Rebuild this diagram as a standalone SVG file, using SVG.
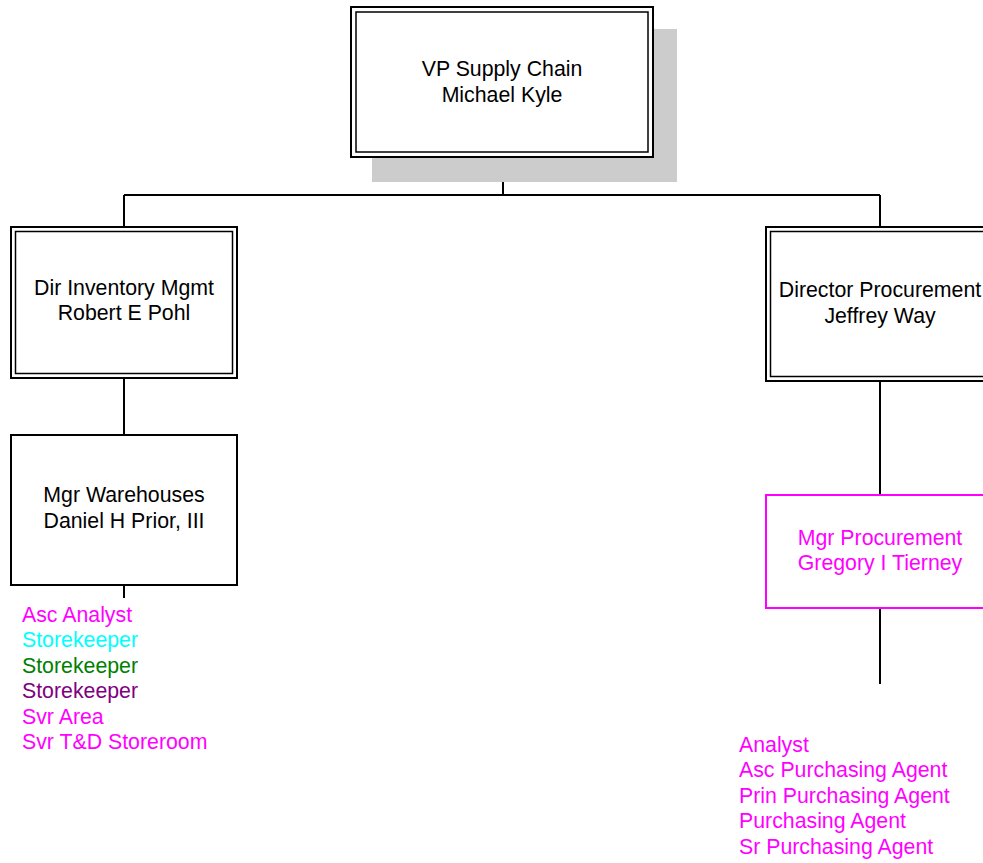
<svg xmlns="http://www.w3.org/2000/svg" width="983" height="863" viewBox="0 0 983 863">
<style>
text{font-family:"Liberation Sans",Arial,sans-serif;font-size:21.3px;}
.c{text-anchor:middle;fill:#000;}
.box{fill:#fff;stroke:#000;stroke-width:2;}
.inner{fill:none;stroke:#000;stroke-width:1.5;}
.ln{stroke:#000;stroke-width:2;fill:none;}
.m{fill:#FF00FF;}
</style>
<rect width="983" height="863" fill="#fff"/>
<g id="connectors">
<path class="ln" d="M503,157 V195 M124,195 H880 M124,195 V227 M880,195 V227 M124,378 V435 M124,585 V598 M880,381 V495 M880,608 V684"/>
</g>
<g id="vp">
<rect x="372" y="29" width="305" height="153" fill="#cccccc"/>
<rect class="box" x="351" y="7" width="302" height="150"/>
<rect class="inner" x="356" y="12" width="292" height="140"/>
<text class="c" x="502" y="76">VP Supply Chain</text>
<text class="c" x="502" y="102">Michael Kyle</text>
</g>
<g id="dir-inventory">
<rect class="box" x="11" y="227" width="226" height="151"/>
<rect class="inner" x="15.5" y="231.5" width="217" height="142"/>
<text class="c" x="124" y="295">Dir Inventory Mgmt</text>
<text class="c" x="124" y="320">Robert E Pohl</text>
</g>
<g id="dir-procurement">
<rect class="box" x="766" y="227" width="228" height="154"/>
<rect class="inner" x="770.5" y="231.5" width="219" height="145"/>
<text class="c" x="880" y="297">Director Procurement</text>
<text class="c" x="880" y="323">Jeffrey Way</text>
</g>
<g id="mgr-warehouses">
<rect class="box" x="11" y="435" width="226" height="150"/>
<text class="c" x="124" y="502">Mgr Warehouses</text>
<text class="c" x="124" y="528">Daniel H Prior, III</text>
</g>
<g id="mgr-warehouses-list">
<text x="22" y="622" class="m">Asc Analyst</text>
<text x="22" y="647" fill="#00FFFF">Storekeeper</text>
<text x="22" y="673" fill="#008000">Storekeeper</text>
<text x="22" y="698" fill="#800080">Storekeeper</text>
<text x="22" y="724" class="m">Svr Area</text>
<text x="22" y="749" class="m">Svr T&amp;D Storeroom</text>
</g>
<g id="mgr-procurement">
<rect x="766" y="495" width="228" height="113" fill="#fff" stroke="#FF00FF" stroke-width="2"/>
<text class="c m" x="880" y="545" style="fill:#FF00FF">Mgr Procurement</text>
<text class="c m" x="880" y="570" style="fill:#FF00FF">Gregory I Tierney</text>
</g>
<g id="mgr-procurement-list">
<text x="739" y="752" class="m">Analyst</text>
<text x="739" y="777" class="m">Asc Purchasing Agent</text>
<text x="739" y="803" class="m">Prin Purchasing Agent</text>
<text x="739" y="828" class="m">Purchasing Agent</text>
<text x="739" y="854" class="m">Sr Purchasing Agent</text>
</g>
</svg>
